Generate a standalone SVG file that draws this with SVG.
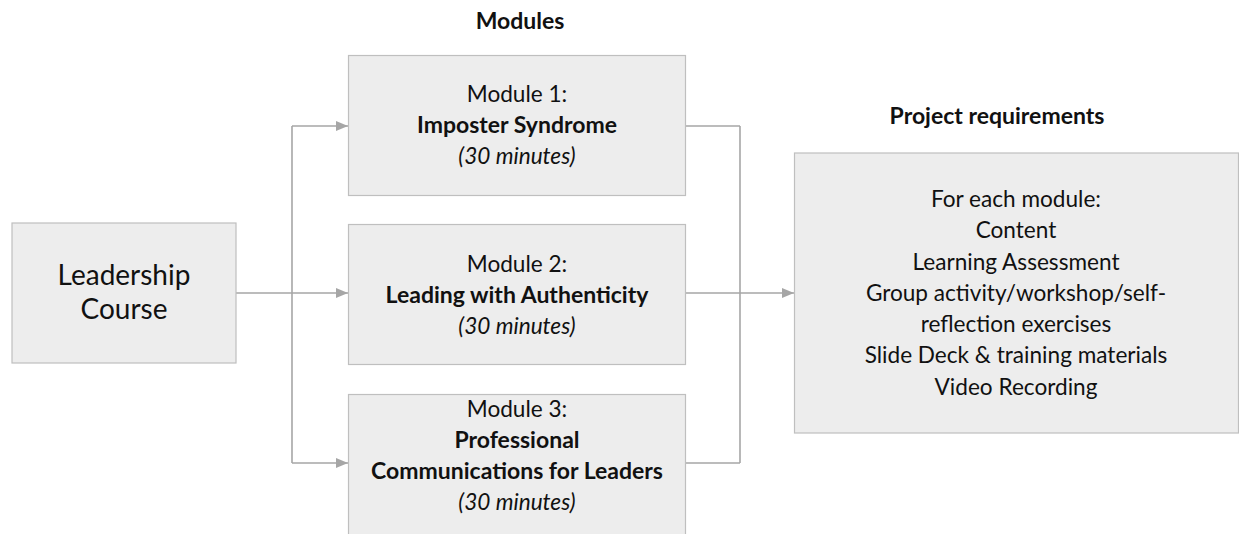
<svg xmlns="http://www.w3.org/2000/svg" width="1239" height="534" viewBox="0 0 1239 534">
<style>
.box{fill:#EDEDED;stroke:#BFBFBF;stroke-width:1.2}
.t{font-family:Lato,"Liberation Sans",sans-serif;font-size:22.6px;fill:#111;text-anchor:middle}
.b{font-weight:bold;font-size:23px}
.i{font-style:italic}
.big{font-size:28px}
.title{font-family:Lato,"Liberation Sans",sans-serif;font-size:23px;font-weight:bold;fill:#111;text-anchor:middle}
.c{fill:none;stroke:#A6A6A6;stroke-width:1.6}
</style>
<defs>
<marker id="ah" markerWidth="12" markerHeight="10" refX="12" refY="5" orient="auto" markerUnits="userSpaceOnUse">
<path d="M0,0 L12,5 L0,10 Z" fill="#A6A6A6"/>
</marker>
</defs>
<text class="title" x="520" y="29">Modules</text>
<text class="title" x="997" y="124">Project requirements</text>
<g id="connectors">
<path class="c" d="M236,293 H348" marker-end="url(#ah)"/>
<path class="c" d="M292,126 V463"/>
<path class="c" d="M292,126 H348" marker-end="url(#ah)"/>
<path class="c" d="M292,463 H348" marker-end="url(#ah)"/>
<path class="c" d="M686,126 H740"/>
<path class="c" d="M686,463 H740"/>
<path class="c" d="M740,126 V463"/>
<path class="c" d="M686,293 H794" marker-end="url(#ah)"/>
</g>
<g id="leadership">
<rect class="box" x="12" y="223" width="224" height="140"/>
<text class="t big" x="124" y="285">Leadership</text>
<text class="t big" x="124" y="319">Course</text>
</g>
<g id="module1">
<rect class="box" x="348.5" y="55.5" width="337" height="140"/>
<text class="t" x="517" y="102">Module 1:</text>
<text class="t b" x="517" y="133">Imposter Syndrome</text>
<text class="t i" x="517" y="164">(30 minutes)</text>
</g>
<g id="module2">
<rect class="box" x="348.5" y="224.5" width="337" height="140"/>
<text class="t" x="517" y="272">Module 2:</text>
<text class="t b" x="517" y="303">Leading with Authenticity</text>
<text class="t i" x="517" y="334">(30 minutes)</text>
</g>
<g id="module3">
<rect class="box" x="348.5" y="394.5" width="337" height="150"/>
<text class="t" x="517" y="417">Module 3:</text>
<text class="t b" x="517" y="448">Professional</text>
<text class="t b" x="517" y="479">Communications for Leaders</text>
<text class="t i" x="517" y="510">(30 minutes)</text>
</g>
<g id="requirements">
<rect class="box" x="794.5" y="153" width="444" height="280"/>
<text class="t" x="1016" y="207">For each module:</text>
<text class="t" x="1016" y="238">Content</text>
<text class="t" x="1016" y="270">Learning Assessment</text>
<text class="t" x="1016" y="301">Group activity/workshop/self-</text>
<text class="t" x="1016" y="332">reflection exercises</text>
<text class="t" x="1016" y="363">Slide Deck &amp; training materials</text>
<text class="t" x="1016" y="395">Video Recording</text>
</g>
</svg>
